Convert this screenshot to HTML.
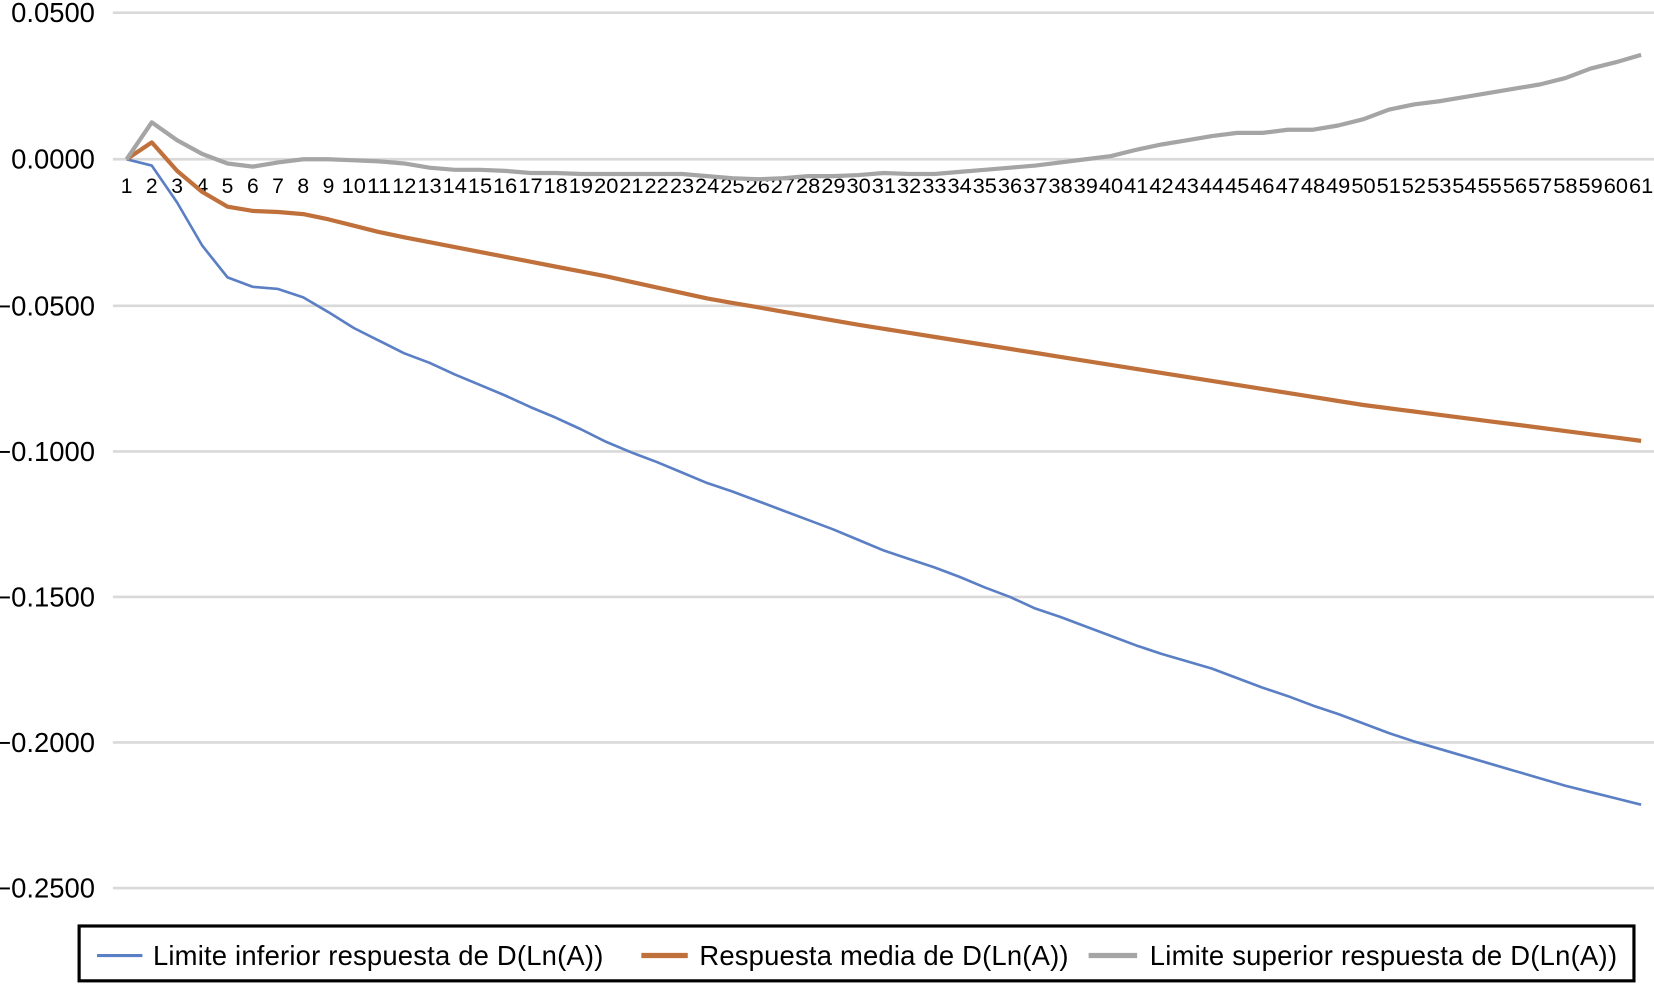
<!DOCTYPE html>
<html><head><meta charset="utf-8"><style>
html,body{margin:0;padding:0;background:#fff;}
svg{display:block;}
text{font-family:"Liberation Sans",sans-serif;fill:#000;}
</style></head><body>
<svg id="s" width="1654" height="984" viewBox="0 0 1568 933" preserveAspectRatio="none" xmlns="http://www.w3.org/2000/svg">
<g id="grid" stroke="#d9d9d9" stroke-width="2.5">
<line x1="107" y1="12" x2="1568" y2="12"/>
<line x1="107" y1="151" x2="1568" y2="151"/>
<line x1="107" y1="290" x2="1568" y2="290"/>
<line x1="107" y1="428" x2="1568" y2="428"/>
<line x1="107" y1="566" x2="1568" y2="566"/>
<line x1="107" y1="704" x2="1568" y2="704"/>
<line x1="107" y1="842" x2="1568" y2="842"/>
</g>
<g font-size="26" text-anchor="end">
<text x="90" y="21">0.0500</text>
<text x="90" y="160">0.0000</text>
<text x="90" y="299">−0.0500</text>
<text x="90" y="437">−0.1000</text>
<text x="90" y="575">−0.1500</text>
<text x="90" y="713">−0.2000</text>
<text x="90" y="851">−0.2500</text>
</g>
<g id="xl" font-size="20" text-anchor="middle"></g>
<polyline id="pb" fill="none" stroke="#5b7fc4" stroke-width="2.5" stroke-linejoin="round"/>
<polyline id="po" fill="none" stroke="#c0703a" stroke-width="4" stroke-linejoin="round"/>
<polyline id="pg" fill="none" stroke="#a5a5a5" stroke-width="4" stroke-linejoin="round"/>
<rect x="75" y="878" width="1474" height="52" fill="none" stroke="#000" stroke-width="3"/>
<line x1="92" y1="906" x2="135" y2="906" stroke="#5b7fc4" stroke-width="3"/>
<text x="145" y="915" font-size="26" textLength="427">Limite inferior respuesta de D(Ln(A))</text>
<line x1="608" y1="906" x2="652" y2="906" stroke="#c0703a" stroke-width="5"/>
<text x="663" y="915" font-size="26" textLength="350">Respuesta media de D(Ln(A))</text>
<line x1="1032" y1="906" x2="1078" y2="906" stroke="#a5a5a5" stroke-width="5"/>
<text x="1090" y="915" font-size="26" textLength="443">Limite superior respuesta de D(Ln(A))</text>
</svg>
<script>
var g=[151,116,133,146,155,158,154,151,151,152,153,155,159,161,161,162,164,164,165,165,165,165,165,167,169,170,169,167,167,166,164,165,165,163,161,159,157,154,151,148,142,137,133,129,126,126,123,123,119,113,104,99,96,92,88,84,80,74,65,59,52];
var b=[151,157,192,233,263,272,274,282,296,311,323,335,344,355,365,375,386,396,407,419,429,438,448,458,466,475,484,493,502,512,522,530,538,547,557,566,577,585,594,603,612,620,627,634,643,652,660,669,677,686,695,703,710,717,724,731,738,745,751,757,763];
var oa=[[1,151],[2,135],[3,162],[4,182],[5,196],[6,200],[7,201],[8,203],[9,208],[10,214],[11,220],[12,225],[20,262],[24,283],[30,308],[40,346],[50,384],[61,418]];
var o=[];
for(var i=1;i<=61;i++){for(var k=0;k<oa.length-1;k++){if(i>=oa[k][0]&&i<=oa[k+1][0]){var t=(i-oa[k][0])/(oa[k+1][0]-oa[k][0]);o.push(oa[k][1]+t*(oa[k+1][1]-oa[k][1]));break;}}}
function X(i){return 120+i*23.93;}
function pts(a){return a.map(function(y,i){return X(i).toFixed(1)+","+y.toFixed(1)}).join(" ");}
document.getElementById("pb").setAttribute("points",pts(b));
document.getElementById("po").setAttribute("points",pts(o));
document.getElementById("pg").setAttribute("points",pts(g));
var xl=document.getElementById("xl"),h="";
for(var i=0;i<61;i++){var n=i+1;h+='<text x="'+X(i).toFixed(1)+'" y="183"'+(n>9?' textLength="23" lengthAdjust="spacingAndGlyphs"':'')+'>'+n+'</text>';}
xl.innerHTML=h;
</script>
</body></html>
